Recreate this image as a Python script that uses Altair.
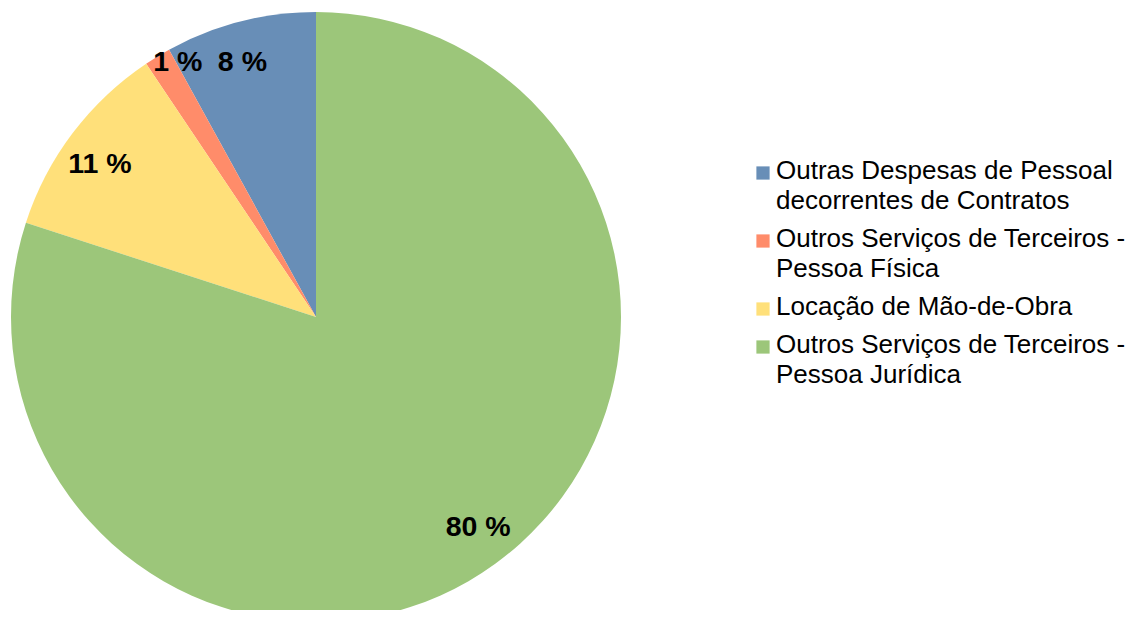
import altair as alt
import pandas as pd

categories = [
    "Outras Despesas de Pessoal|decorrentes de Contratos",
    "Outros Serviços de Terceiros -|Pessoa Física",
    "Locação de Mão-de-Obra",
    "Outros Serviços de Terceiros -|Pessoa Jurídica",
]
values = [8.0, 1.4, 10.6, 80.0]
labels = ["8 %", "1 %", "11 %", "80 %"]
colors = ["#688eb7", "#ff8c6a", "#ffe07a", "#9cc67a"]

df = pd.DataFrame({
    "cat": categories,
    "val": values,
    "lab": labels,
    "idx": list(range(len(categories))),
})

CX, CY, R = 308, 309, 305
FONT = "Liberation Sans"

base = alt.Chart(df).encode(
    theta=alt.Theta("val:Q", stack=True),
    order=alt.Order("idx:Q", sort="descending"),
)

pie = base.mark_arc(outerRadius=R, strokeWidth=0).encode(
    x=alt.value(CX),
    y=alt.value(CY),
    color=alt.Color(
        "cat:N",
        scale=alt.Scale(domain=categories, range=colors),
        legend=alt.Legend(
            title=None,
            orient="none",
            legendX=742,
            legendY=152,
            symbolType="square",
            symbolSize=175,
            symbolStrokeWidth=0,
            labelFont=FONT,
            labelFontSize=26,
            labelColor="#000000",
            labelLimit=500,
            labelExpr="split(datum.label, '|')",
            labelBaseline="top",
            labelOffset=0,
            rowPadding=12,
        ),
    ),
)

text_main = base.mark_text(
    radius=265, thetaOffset=-0.03, font=FONT, fontSize=28.5, fontWeight="bold", color="#000000"
).encode(
    x=alt.value(CX),
    y=alt.value(CY),
    text="lab:N",
    opacity=alt.condition("datum.idx == 1", alt.value(0), alt.value(1)),
)

text_small = base.mark_text(
    radius=290, thetaOffset=0.05, font=FONT, fontSize=28.5, fontWeight="bold", color="#000000"
).encode(
    x=alt.value(CX),
    y=alt.value(CY),
    text="lab:N",
    opacity=alt.condition("datum.idx == 1", alt.value(1), alt.value(0)),
)

chart = (
    alt.layer(pie, text_main, text_small)
    .properties(width=1120, height=602, padding=0, autosize=alt.AutoSizeParams(type="none"))
    .configure(
        view={"stroke": None},
        style={"guide-label": {"lineHeight": 30, "dy": -15}},
    )
)

chart.save("out.html", embed_options={"renderer": "svg", "actions": False})
